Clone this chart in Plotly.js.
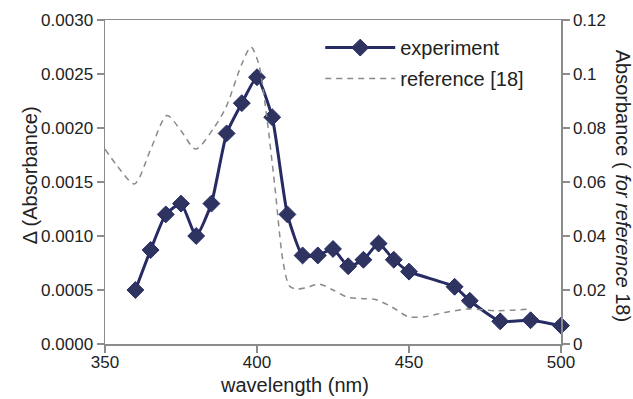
<!DOCTYPE html>
<html><head><meta charset="utf-8">
<script src="https://cdn.plot.ly/plotly-3.0.1.min.js"></script>
<style>html,body{margin:0;padding:0;background:#fff}#c{width:633px;height:399px}</style>
</head><body><div id="c"></div>
<script>
const expWavelength = [360,365,370,375,380,385,390,395,400,405,410,415,420,425,430,435,440,445,450,465,470,480,490,500];
const expDelta = [0.0005,0.00087,0.0012,0.0013,0.0010,0.0013,0.00195,0.00223,0.00247,0.0021,0.0012,0.00082,0.00082,0.00088,0.00072,0.00078,0.00093,0.00078,0.00067,0.00053,0.00040,0.00021,0.00022,0.00017];
const refWavelength = [350,354,359.7,365,370.4,375,379.8,385.8,389.8,395,398,400.5,403,405.9,408.5,410.6,412.6,416,420.5,425,429.8,435,439.2,444.5,449.8,455.2,461.8,469.8,479.1,489.9];
const refAbsorbance = [0.0722,0.066,0.0593,0.072,0.0846,0.079,0.0722,0.080,0.0877,0.1037,0.110,0.104,0.086,0.058,0.031,0.0216,0.0204,0.0208,0.0222,0.020,0.0173,0.0168,0.0164,0.0136,0.0101,0.0101,0.0117,0.013,0.0123,0.013];
const leftTicks = [0,0.0005,0.0010,0.0015,0.0020,0.0025,0.0030];
const rightTicks = [0,0.02,0.04,0.06,0.08,0.1,0.12];
const xTicks = [350,400,450,500];

const FONT = 'Liberation Sans, Arial, sans-serif';
const traces = [
  {x: expWavelength, y: expDelta, name: 'experiment', type: 'scatter', mode: 'lines+markers',
   line: {color: '#272b63', width: 3, shape: 'spline', smoothing: 0.5},
   marker: {symbol: 'diamond', size: 13, color: '#2e335f', line: {color: '#272b63', width: 1}},
   cliponaxis: false, legendgroup: 'a'},
  {x: refWavelength, y: refAbsorbance, name: 'reference [18]', type: 'scatter', mode: 'lines',
   yaxis: 'y2', line: {color: '#8a8a8a', width: 1.5, dash: '6px,5px', shape: 'spline', smoothing: 0.8},
   legendgroup: 'b'}
];
const axisCommon = {showgrid: false, zeroline: false, showline: true, linecolor: '#8c8c8c', linewidth: 1.5,
  ticks: 'outside', ticklen: 7, tickcolor: '#8c8c8c', tickwidth: 1.5,
  tickfont: {family: FONT, size: 17, color: '#222'}};
const titleFont = {family: FONT, size: 20, color: '#222'};
const layout = {
  width: 633, height: 399,
  margin: {l: 105, r: 72, t: 20, b: 55},
  paper_bgcolor: '#fff', plot_bgcolor: '#fff',
  font: {family: FONT, color: '#222'},
  showlegend: true,
  legend: {x: 0.472, y: 0.975, xanchor: 'left', yanchor: 'top', bgcolor: 'rgba(0,0,0,0)',
    font: {family: FONT, size: 20, color: '#222'}, tracegroupgap: 2, itemwidth: 70},
  xaxis: Object.assign({}, axisCommon, {range: [350, 500], tickvals: xTicks, mirror: true, ticklabelstandoff: -5}),
  yaxis: Object.assign({}, axisCommon, {range: [0, 0.003], tickvals: leftTicks, tickformat: '.4f'}),
  yaxis2: Object.assign({}, axisCommon, {range: [0, 0.12], tickvals: rightTicks, overlaying: 'y', side: 'right',
    ticktext: rightTicks.map(String), tickmode: 'array'}),
  annotations: [
    {xref: 'paper', yref: 'paper', x: 1.135, y: 0.49, xanchor: 'center', yanchor: 'middle',
     textangle: 90, showarrow: false, text: 'Absorbance ( <i>for reference</i> 18)', font: titleFont},
    {xref: 'paper', yref: 'paper', x: -0.165, y: 0.52, xanchor: 'center', yanchor: 'middle',
     textangle: -90, showarrow: false, text: 'Δ (Absorbance)', font: titleFont},
    {xref: 'paper', yref: 'paper', x: 0.415, y: -0.125, xanchor: 'center', yanchor: 'middle',
     showarrow: false, text: 'wavelength (nm)', font: titleFont}
  ]
};
Plotly.newPlot('c', traces, layout, {displayModeBar: false, staticPlot: true});
</script></body></html>
